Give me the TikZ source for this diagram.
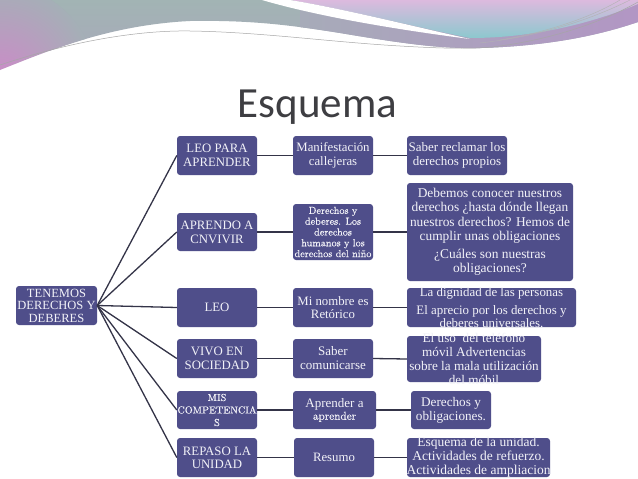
\documentclass[tikz,border=0pt]{standalone}
\usepackage{fontspec}
\setmainfont{Liberation Serif}
\newfontfamily\titlefont{Carlito}
\newfontfamily\lmr[FakeBold=0.3]{Latin Modern Roman}
\definecolor{boxc}{RGB}{79,78,138}
\definecolor{boxtext}{RGB}{242,242,248}
\definecolor{linec}{RGB}{52,52,72}
\definecolor{titlec}{RGB}{62,62,66}
\definecolor{greyteal}{RGB}{162,180,180}
\definecolor{pinkl}{RGB}{204,138,200}
\definecolor{purpg}{RGB}{178,150,196}
\definecolor{lav}{RGB}{220,186,222}
\definecolor{tealc}{RGB}{140,200,206}
\newcommand{\bx}[3]{\makebox[0pt]{\raisebox{-2.5pt}[0pt][0pt]{\parbox[c]{220pt}{\centering\fontsize{#1}{#2}\selectfont #3}}}}
\begin{document}
\begin{tikzpicture}[x=1pt,y=-1pt,
  box/.style={rectangle, rounded corners=3pt, fill=boxc, text=boxtext, inner sep=0pt},
  conn/.style={draw=linec, line width=1.3pt}]
\useasboundingbox (0,0) rectangle (638,479);
\fill[white] (0,0) rectangle (638,479);
% decorative band
\begin{scope}
\clip (0,0) -- (0,70) .. controls (50,50) and (110,25) .. (190,21)
  .. controls (250,20) and (290,25) .. (340,33)
  .. controls (400,43) and (440,49) .. (480,48)
  .. controls (550,46) and (600,35) .. (638,22) -- (638,0) -- cycle;
\shade[top color=greyteal, bottom color=greyteal!70!purpg] (0,0) rectangle (638,50);
\shade[inner color=pinkl, outer color=greyteal!85!purpg] (0,80) circle (95);
\shade[left color=greyteal!70!purpg, right color=purpg] (300,0) rectangle (638,50);
\end{scope}
\shade[top color=lav, bottom color=tealc]
  (290,0) .. controls (350,10) and (420,28) .. (470,38)
  .. controls (540,38) and (600,20) .. (638,4) -- (638,0) -- cycle;
\fill[white] (262,0) .. controls (320,17) and (400,30) .. (470,39)
  .. controls (420,28) and (345,9) .. (290,0) -- cycle;
\draw[gray!70, line width=0.5pt] (0,65) .. controls (60,45) and (130,30) .. (190,31)
  .. controls (260,32) and (330,42) .. (400,46) .. controls (450,49) and (480,49) .. (500,46)
  .. controls (560,38) and (610,18) .. (638,2);
\draw[gray!60, line width=0.4pt] (480,43) .. controls (550,35) and (600,15) .. (630,0);
\draw[gray!60, line width=0.4pt] (500,40) .. controls (560,30) and (600,12) .. (620,0);
% title
\node[anchor=base, text=titlec, inner sep=0pt] (title) at (317.5,117) {\titlefont\fontsize{43}{43}\selectfont Esquema};
% root
\node[box, minimum width=81pt, minimum height=39pt] (root) at (56.5,305.5) {\bx{12.5}{12.5}{TENEMOS\\DERECHOS Y\\DEBERES}};
% column 1
\node[box, minimum width=80pt, minimum height=39pt] (a1) at (217,155.5) {\bx{12.8}{14}{LEO PARA\\APRENDER}};
\node[box, minimum width=80pt, minimum height=38pt] (a2) at (217,232) {\bx{12.8}{14}{APRENDO A\\CNVIVIR}};
\node[box, minimum width=80pt, minimum height=39pt] (a3) at (217,307.5) {\bx{12.8}{14}{LEO}};
\node[box, minimum width=80pt, minimum height=39pt] (a4) at (217,358.5) {\bx{12.8}{13.5}{VIVO EN\\SOCIEDAD}};
\node[box, minimum width=80pt, minimum height=38pt] (a5) at (217,410) {\bx{10.2}{12.5}{\lmr MIS\\COMPETENCIA\\S}};
\node[box, minimum width=80pt, minimum height=39pt] (a6) at (217,457.5) {\bx{12.8}{13}{REPASO LA\\UNIDAD}};
% column 2
\node[box, minimum width=80pt, minimum height=39pt] (b1) at (333,155.5) {\bx{12.8}{14}{Manifestación\\callejeras}};
\node[box, minimum width=80pt, minimum height=56pt] (b2) at (333,232) {\bx{10.2}{10.8}{\lmr Derechos y\\deberes. Los\\derechos\\humanos y los\\derechos del niño}};
\node[box, minimum width=80pt, minimum height=39pt] (b3) at (333,307.5) {\bx{12.8}{12.8}{Mi nombre es\\Retórico}};
\node[box, minimum width=80pt, minimum height=39pt] (b4) at (333,358.5) {\bx{13}{14}{Saber\\comunicarse}};
\node[box, minimum width=83pt, minimum height=38pt] (b5) at (334.5,410) {\bx{13}{12.7}{Aprender a\\{\lmr\fontsize{11.5}{12.7}\selectfont aprender}}};
\node[box, minimum width=80pt, minimum height=39pt] (b6) at (334,457.5) {\bx{12.8}{14}{Resumo}};
% column 3
\node[box, minimum width=100pt, minimum height=39pt] (c1) at (457,155.5) {\bx{13}{14.5}{Saber reclamar los\\derechos propios}};
\node[box, minimum width=166pt, minimum height=98pt] (c2) at (490,232) {\bx{13.4}{14.5}{Debemos conocer nuestros\\derechos ¿hasta dónde llegan\\nuestros derechos? Hemos de\\cumplir unas obligaciones\\[3pt]¿Cuáles son nuestras\\obligaciones?}};
\node[box, minimum width=169pt, minimum height=39pt] (c3) at (491.5,307.5) {\bx{12.9}{12.5}{La dignidad de las personas\\[6pt]El aprecio por los derechos y\\deberes universales.}};
\node[box, minimum width=134pt, minimum height=46pt] (c4) at (474,359) {\bx{13.2}{14}{El uso \ del teléfono\\móvil Advertencias\\sobre la mala utilización\\del móbil}};
\node[box, minimum width=80pt, minimum height=38pt] (c5) at (451,410) {\bx{13.2}{14}{Derechos y\\obligaciones.}};
\node[box, minimum width=143pt, minimum height=39pt] (c6) at (478.5,457.5) {\bx{13.5}{14}{Esquema de la unidad.\\Actividades de refuerzo.\\Actividades de ampliacion}};
% connectors
\foreach \n in {a1,a2,a3,a4,a5,a6} \draw[conn] (root.east) -- (\n.west);
\draw[conn] (a1.east) -- (b1.west);
\draw[conn] (a2.east) -- (b2.west);
\draw[conn] (a3.east) -- (b3.west);
\draw[conn] (a4.east) -- (b4.west);
\draw[conn] (a5.east) -- (b5.west);
\draw[conn] (a6.east) -- (b6.west);
\draw[conn] (b1.east) -- (c1.west);
\draw[conn] (b2.east) -- (c2.west);
\draw[conn] (b3.east) -- (c3.west);
\draw[conn] (b4.east) -- (c4.west);
\draw[conn] (b5.east) -- (c5.west);
\draw[conn] (b6.east) -- (c6.west);
\end{tikzpicture}
\end{document}
